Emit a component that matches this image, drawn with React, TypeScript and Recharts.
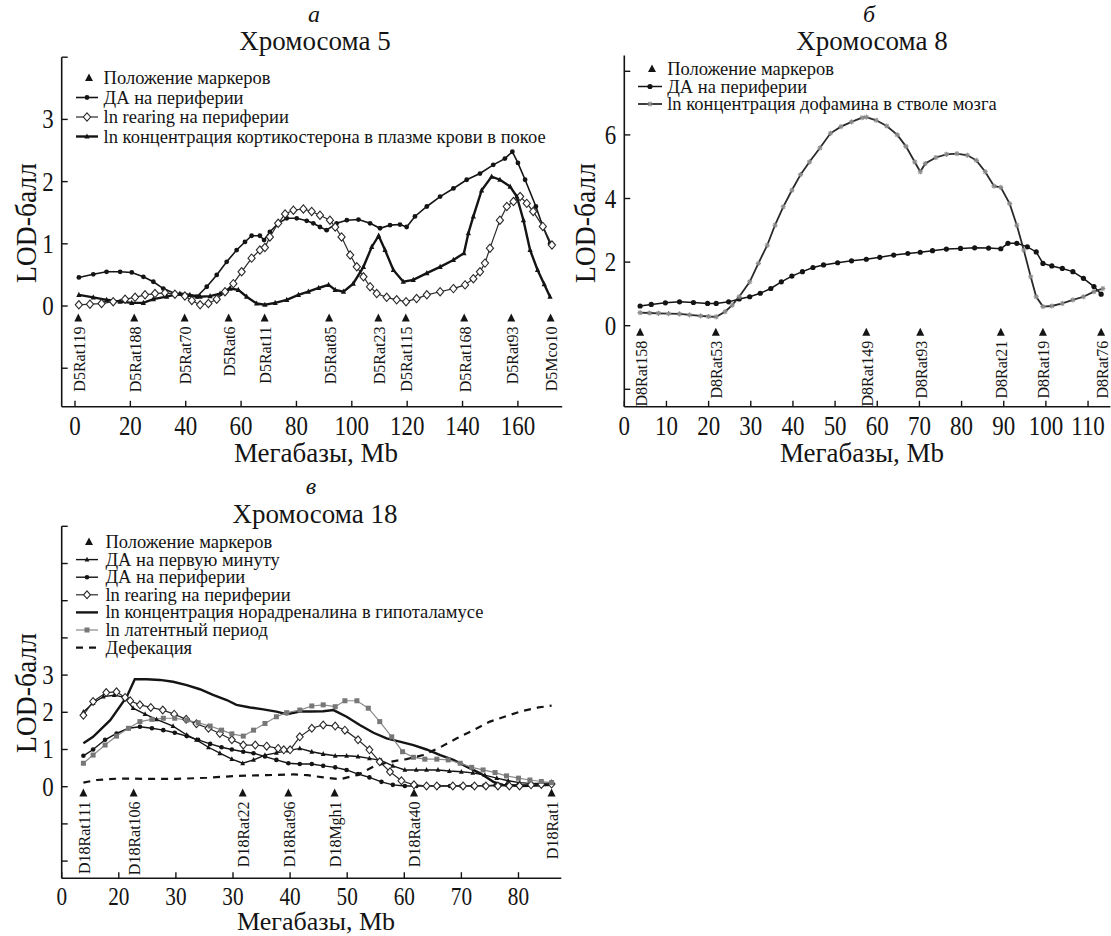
import React from 'react';
import { ComposedChart, Line, Scatter, XAxis, YAxis } from 'recharts';

const FONT = '"Liberation Serif", "Times New Roman", serif';
const INK = '#141414';

type Pt = { x: number; y: number };
const toPts = (rows: number[][]): Pt[] => rows.map(([x, y]) => ({ x, y }));

/* ---------------- Panel а : Хромосома 5 ---------------- */
const chr5MarkerNames = ['D5Rat119', 'D5Rat188', 'D5Rat70', 'D5Rat6', 'D5Rat11', 'D5Rat85', 'D5Rat23', 'D5Rat115', 'D5Rat168', 'D5Rat93', 'D5Mco10'];
const chr5MarkerPos = [1.2, 21.4, 39.6, 55.5, 68.5, 91.8, 109.6, 119.5, 140.6, 157.6, 171.8];
const chr5XTicks = [0, 20, 40, 60, 80, 100, 120, 140, 160];
const chr5XLabels = ['0', '20', '40', '60', '80', '100', '120', '140', '160'];
const chr5YTicks = [-1, 0, 1, 2, 3, 4];
const chr5YLabels = ['', '0', '1', '2', '3', ''];
const chr5Da = toPts([
  [1.4, 0.46], [6.6, 0.51], [11.4, 0.55], [16.3, 0.55], [20.5, 0.54], [24.7, 0.47], [28.3, 0.39], [31.9, 0.28],
  [36.1, 0.2], [40.3, 0.16], [44, 0.15], [47.6, 0.31], [51.2, 0.5], [54.8, 0.71], [58.4, 0.9], [61.4, 1.03],
  [63.8, 1.13], [66.8, 1.13], [68.3, 1.06], [70.4, 1.19], [73.4, 1.33], [76.5, 1.41], [80.1, 1.41], [83.7, 1.37],
  [86.1, 1.33], [88.5, 1.27], [90.9, 1.22], [94.5, 1.33], [98.2, 1.38], [102.4, 1.39], [106.6, 1.33], [110.2, 1.25],
  [113.8, 1.3], [117.4, 1.31], [119.8, 1.27], [122.8, 1.44], [127.1, 1.6], [131.9, 1.76], [136.7, 1.89], [141.5, 2.03],
  [146.3, 2.13], [151.1, 2.27], [155.3, 2.37], [158, 2.48], [160, 2.3], [162.6, 2.03], [166.5, 1.6], [169, 1.28], [171.6, 1.0],
]);
const chr5Cort = toPts([
  [1.4, 0.18], [6.6, 0.14], [11.4, 0.1], [16.3, 0.07], [20.5, 0.05], [24.7, 0.05], [28.3, 0.11], [33.1, 0.15],
  [37.9, 0.2], [41.5, 0.18], [45.2, 0.15], [48.8, 0.16], [52.4, 0.2], [56, 0.28], [59, 0.26], [62, 0.15],
  [65.6, 0.04], [68.6, 0.02], [72.3, 0.05], [76.5, 0.1], [80.7, 0.18], [84.3, 0.23], [88, 0.29], [91.6, 0.34],
  [94, 0.26], [97, 0.23], [100.5, 0.36], [104.2, 0.63], [107.2, 0.95], [109.7, 1.13], [112, 0.9], [115, 0.58],
  [118.6, 0.39], [122.2, 0.42], [127.1, 0.53], [131.9, 0.63], [136.7, 0.74], [140.5, 0.85], [142.1, 1.17], [143.9, 1.44],
  [146.9, 1.86], [150.5, 2.08], [153.5, 2.03], [157.2, 1.92], [159.6, 1.76], [162, 1.38], [164.4, 0.9], [167.1, 0.58],
  [169.5, 0.35], [171.6, 0.15],
]);
const chr5Rearing = toPts([
  [1.4, 0.02], [5.4, 0.03], [9.6, 0.04], [13.8, 0.07], [18.1, 0.11], [21.7, 0.14], [25.3, 0.18], [28.9, 0.2],
  [32.5, 0.21], [36.1, 0.19], [39.7, 0.16], [42.2, 0.09], [45.2, 0.02], [48.2, 0.04], [51.2, 0.11], [54.2, 0.23],
  [57.2, 0.36], [60.2, 0.55], [63.8, 0.77], [66.8, 0.9], [68.6, 0.94], [70.4, 1.11], [73.4, 1.33], [75.9, 1.48],
  [78.9, 1.54], [82.5, 1.56], [85.5, 1.52], [88.5, 1.46], [92.1, 1.38], [94, 1.27], [96.3, 1.11], [99.4, 0.82],
  [101.8, 0.63], [104.2, 0.47], [106.6, 0.31], [109, 0.2], [112.6, 0.14], [116.2, 0.1], [119.6, 0.07], [123.4, 0.12],
  [127.1, 0.18], [131.9, 0.23], [136.7, 0.28], [140.9, 0.34], [143.9, 0.44], [146.3, 0.55], [148.1, 0.69], [149.9, 0.93],
  [153.5, 1.38], [156, 1.6], [158.4, 1.68], [160.8, 1.76], [163.2, 1.65], [165.5, 1.52], [169, 1.28], [172.3, 0.98],
]);

/* ---------------- Panel б : Хромосома 8 ---------------- */
const chr8MarkerNames = ['D8Rat158', 'D8Rat53', 'D8Rat149', 'D8Rat93', 'D8Rat21', 'D8Rat19', 'D8Rat76'];
const chr8MarkerPos = [3.75, 21.7, 57.4, 70.2, 89.3, 99.3, 113.1];
const chr8XTicks = [0, 10, 20, 30, 40, 50, 60, 70, 80, 90, 100, 110];
const chr8XLabels = ['0', '10', '20', '30', '40', '50', '60', '70', '80', '90', '100', '110'];
const chr8YTicks = [-2, 0, 2, 4, 6, 8];
const chr8YLabels = ['', '0', '2', '4', '6', ''];
const chr8Da = toPts([
  [3.75, 0.62], [6.4, 0.67], [9.75, 0.72], [13.1, 0.75], [16.4, 0.73], [19.75, 0.7], [21.8, 0.7], [24.75, 0.75],
  [27.25, 0.84], [29.75, 0.91], [32.25, 1.02], [34.75, 1.17], [37.25, 1.38], [39.75, 1.56], [42.25, 1.7], [44.75, 1.83],
  [47.25, 1.91], [50.6, 1.98], [53.9, 2.04], [57.4, 2.09], [60.6, 2.15], [63.9, 2.22], [67.25, 2.27], [70.2, 2.31],
  [73.1, 2.36], [76.4, 2.41], [79.75, 2.43], [83.1, 2.45], [86.4, 2.44], [89.3, 2.42], [91, 2.59], [93.1, 2.59],
  [95.6, 2.48], [97.7, 2.32], [99.3, 1.96], [101.4, 1.88], [103.9, 1.8], [106.4, 1.7], [108.9, 1.49], [111.4, 1.23], [113.1, 0.99],
]);
const chr8Dopamine = toPts([
  [3.75, 0.41], [6, 0.4], [8.1, 0.39], [10.5, 0.38], [13.1, 0.37], [15.5, 0.34], [18.1, 0.31], [20, 0.29], [21.8, 0.28],
  [23.9, 0.44], [25.6, 0.65], [27.25, 0.91], [29.75, 1.38], [31.8, 1.96], [33.9, 2.53], [35.75, 3.16], [37.7, 3.74],
  [39.75, 4.26], [41.8, 4.75], [43.9, 5.15], [46.4, 5.59], [48.9, 6.05], [51.4, 6.26], [53.9, 6.41], [56.4, 6.54],
  [57.4, 6.56], [59.75, 6.46], [62.25, 6.28], [64.75, 6.0], [66.8, 5.64], [68.9, 5.15], [70.2, 4.84], [71.4, 5.1],
  [73.9, 5.29], [76.4, 5.39], [78.9, 5.41], [81.4, 5.36], [83.5, 5.2], [85.6, 4.84], [87.7, 4.39], [89.3, 4.35],
  [91.4, 3.84], [93.1, 3.16], [94.75, 2.38], [96.4, 1.54], [97.7, 0.91], [99.3, 0.6], [101.4, 0.62], [103.9, 0.7],
  [106.4, 0.81], [108.9, 0.91], [111.4, 1.07], [113.5, 1.17],
]);

/* ---------------- Panel в : Хромосома 18 ---------------- */
const chr18MarkerNames = ['D18Rat111', 'D18Rat106', 'D18Rat22', 'D18Rat96', 'D18Mgh1', 'D18Rat40', 'D18Rat1'];
const chr18MarkerPos = [3.8, 12.6, 31.7, 39.7, 47.8, 61.7, 85.8];
const chr18XTicks = [0, 10, 20, 30, 40, 50, 60, 70, 80];
const chr18XLabels = ['0', '20', '30', '30', '40', '50', '60', '70', '80'];
const chr18YTicks = [-2, -1, 0, 1, 2, 3, 4, 5, 6, 7];
const chr18YLabels = ['', '', '0', '1', '2', '3', '', '', '', ''];
const chr18DaFirst = toPts([
  [3.8, 2.01], [5.5, 2.25], [7.3, 2.42], [9.2, 2.46], [11, 2.4], [12.5, 2.11], [14.6, 1.95], [16.6, 1.81], [19.5, 1.63],
  [21.9, 1.39], [23.6, 1.26], [25.7, 1.06], [27.7, 0.9], [29.8, 0.74], [31.7, 0.63], [33.6, 0.72], [35.6, 0.85],
  [37.6, 0.91], [39.7, 0.97], [41.7, 1.03], [43.8, 0.94], [45.8, 0.88], [47.9, 0.83], [49.9, 0.83], [51.9, 0.81],
  [53.9, 0.76], [56, 0.7], [58, 0.56], [60.1, 0.45], [62.1, 0.45], [63.9, 0.45], [65.9, 0.45], [67.9, 0.42], [70, 0.4],
  [72, 0.37], [74.1, 0.31], [76.2, 0.23], [78.2, 0.16], [80.2, 0.11], [82, 0.09], [84, 0.09], [85.8, 0.1],
]);
const chr18DaPeriph = toPts([
  [3.8, 0.83], [5.5, 1.0], [7.6, 1.26], [9.6, 1.43], [11.7, 1.57], [13.7, 1.61], [15.8, 1.57], [17.8, 1.52], [19.8, 1.45],
  [21.9, 1.36], [23.9, 1.26], [26, 1.15], [28, 1.06], [29.8, 1.0], [31.8, 0.94], [33.6, 0.9], [35.6, 0.81], [37.6, 0.72],
  [39.7, 0.63], [41.7, 0.61], [43.8, 0.61], [45.8, 0.56], [47.9, 0.52], [49.9, 0.45], [51.9, 0.34], [53.9, 0.25],
  [56, 0.13], [58, 0.05], [60.1, 0.02], [62.1, 0.02], [64, 0.02], [66, 0.02], [68, 0.02], [70, 0.02], [72, 0.02],
  [74, 0.03], [76, 0.04], [78, 0.05], [80, 0.05], [82, 0.05], [84, 0.05], [85.8, 0.06],
]);
const chr18Rearing = toPts([
  [3.8, 1.92], [5.5, 2.29], [7.8, 2.53], [9.6, 2.55], [11.1, 2.4], [12, 2.31], [13.7, 2.2], [15.6, 2.13], [17.7, 2.06],
  [19.7, 1.95], [21.8, 1.81], [23.6, 1.69], [25.7, 1.57], [27.7, 1.43], [29.8, 1.26], [31.8, 1.12], [33.9, 1.12],
  [35.9, 1.09], [37.9, 1.03], [38.9, 0.99], [40, 0.99], [41.7, 1.34], [43.8, 1.57], [45.8, 1.66], [47.9, 1.63],
  [49.6, 1.52], [51.9, 1.26], [53.9, 0.99], [55.7, 0.67], [57.5, 0.4], [59.5, 0.16], [61.7, 0.05], [63.9, 0.02],
  [65.7, 0.02], [68.5, 0.02], [70.3, 0.02], [72.3, 0.02], [74.3, 0.02], [76.4, 0.02], [78.4, 0.02], [80.2, 0.02],
  [82.2, 0.05], [84, 0.06], [85.8, 0.07],
]);
const chr18Noradr = toPts([
  [3.8, 1.17], [5.5, 1.34], [8.5, 1.79], [11.4, 2.42], [12.8, 2.89], [14.9, 2.89], [17.2, 2.87], [19.5, 2.82],
  [21.9, 2.73], [24.2, 2.62], [26.5, 2.47], [28.9, 2.33], [30.6, 2.2], [33, 2.13], [35.3, 2.08], [37.6, 2.02],
  [39.4, 1.95], [41.7, 2.02], [43.5, 2.02], [45.8, 2.03], [47.6, 2.06], [49.9, 1.88], [52.2, 1.66], [54.6, 1.45],
  [56.9, 1.3], [59.2, 1.21], [61.6, 1.12], [63.9, 1.0], [66.3, 0.85], [68.6, 0.72], [70.9, 0.54], [73.3, 0.36],
  [75.6, 0.13], [77.3, 0.05], [80.3, 0.02], [83, 0.03], [85.8, 0.05],
]);
const chr18Latent = toPts([
  [3.8, 0.63], [5.5, 0.85], [7.6, 1.12], [9.6, 1.36], [11.7, 1.57], [13.7, 1.75], [15.8, 1.81], [17.8, 1.84], [19.8, 1.84],
  [21.9, 1.79], [23.9, 1.72], [26, 1.63], [28, 1.52], [29.8, 1.42], [31.8, 1.36], [33.6, 1.52], [35.6, 1.7], [37.6, 1.88],
  [39.4, 1.99], [41.7, 2.06], [43.8, 2.17], [45.8, 2.2], [47.9, 2.15], [49.6, 2.31], [51.7, 2.31], [53.7, 2.11],
  [55.7, 1.75], [57.8, 1.34], [59.7, 0.94], [61.6, 0.79], [63.6, 0.74], [65.7, 0.74], [67.7, 0.72], [69.8, 0.63],
  [71.8, 0.52], [73.8, 0.45], [75.9, 0.38], [77.9, 0.29], [80, 0.23], [82, 0.18], [84, 0.14], [85.8, 0.11],
]);
const chr18Defec = toPts([
  [3.8, 0.11], [6.1, 0.18], [10.2, 0.22], [14.9, 0.21], [20.1, 0.21], [25.4, 0.24], [30.6, 0.29], [35.9, 0.31],
  [40.6, 0.33], [43, 0.31], [45.8, 0.25], [48.7, 0.2], [51.7, 0.31], [54.6, 0.54], [57.5, 0.67], [60.4, 0.74],
  [63.3, 0.85], [66.3, 1.06], [69.2, 1.3], [72.1, 1.52], [75, 1.75], [77.9, 1.9], [80.8, 2.04], [83.5, 2.13], [85.8, 2.18],
]);

/* ---------------- rendering helpers ---------------- */
type DotKind = 'circle' | 'tri' | 'diamond' | 'square' | 'star' | 'none';
interface Series {
  name: string; data: Pt[]; stroke: string; width: number; dash?: string; dot: DotKind; dotColor?: string; dotSize?: number;
}

function dotShape(kind: DotKind, cx: number, cy: number, color: string, size: number, key?: any) {
  if (cx == null || cy == null || isNaN(cx) || isNaN(cy)) return <g key={key} />;
  const s = size;
  switch (kind) {
    case 'circle':
      return <circle key={key} cx={cx} cy={cy} r={s} fill={color} />;
    case 'tri':
      return <path key={key} d={`M${cx},${cy - s * 1.2} L${cx + s},${cy + s * 0.8} L${cx - s},${cy + s * 0.8} Z`} fill={color} />;
    case 'diamond':
      return <path key={key} d={`M${cx},${cy - s * 1.15} L${cx + s},${cy} L${cx},${cy + s * 1.15} L${cx - s},${cy} Z`} fill="#fff" stroke={color} strokeWidth={1.1} />;
    case 'square':
      return <rect key={key} x={cx - s} y={cy - s} width={s * 2} height={s * 2} fill={color} />;
    case 'star':
      return (
        <g key={key} stroke={color} strokeWidth={1.1}>
          <line x1={cx - s} y1={cy} x2={cx + s} y2={cy} />
          <line x1={cx} y1={cy - s} x2={cx} y2={cy + s} />
          <line x1={cx - s * 0.7} y1={cy - s * 0.7} x2={cx + s * 0.7} y2={cy + s * 0.7} />
          <line x1={cx - s * 0.7} y1={cy + s * 0.7} x2={cx + s * 0.7} y2={cy - s * 0.7} />
        </g>
      );
    default:
      return <g key={key} />;
  }
}

interface PanelProps {
  box: { left: number; top: number; width: number; height: number };
  plot: { left: number; top: number; right: number; bottom: number };
  xDomain: [number, number];
  yDomain: [number, number];
  xTicks: number[]; xLabels: string[]; xLabelDy: number; xLabelSize: number;
  yTicks: number[]; yLabels: string[];
  markerNames: string[]; markerPos: number[]; markerY: number;
  series: Series[];
}

function Panel(p: PanelProps) {
  const { box, plot } = p;
  const markers = p.markerPos.map((x, i) => ({ x, y: p.markerY, name: p.markerNames[i] }));
  const xTick = (t: any) => {
    const idx = p.xTicks.indexOf(t.payload.value);
    const lbl = idx >= 0 ? p.xLabels[idx] : '';
    return (
      <g>
        <line x1={t.x} x2={t.x} y1={t.y} y2={t.y - 6} stroke={INK} strokeWidth={1.4} />
        {lbl ? (
          <text transform={`translate(${t.x},${t.y + p.xLabelDy}) scale(0.85,1)`} textAnchor="middle" fontSize={p.xLabelSize} fontFamily={FONT} fill={INK}>{lbl}</text>
        ) : null}
      </g>
    );
  };
  const yTick = (t: any) => {
    const idx = p.yTicks.indexOf(t.payload.value);
    const lbl = idx >= 0 ? p.yLabels[idx] : '';
    return (
      <g>
        <line x1={t.x} x2={t.x + 6} y1={t.y} y2={t.y} stroke={INK} strokeWidth={1.4} />
        {lbl ? (
          <text transform={`translate(${t.x - 8},${t.y + 9}) scale(0.85,1)`} textAnchor="end" fontSize={27} fontFamily={FONT} fill={INK}>{lbl}</text>
        ) : null}
      </g>
    );
  };
  const markerShape = (m: any) => {
    const { cx, cy, payload } = m;
    return (
      <g>
        <path d={`M${cx},${cy - 5} L${cx + 4},${cy + 3} L${cx - 4},${cy + 3} Z`} fill={INK} />
        <text transform={`translate(${cx + 1},${cy + 8}) rotate(-90)`} textAnchor="end" dominantBaseline="central" fontSize={16} fontFamily={FONT} fill={INK}>{payload.name}</text>
      </g>
    );
  };
  return (
    <div style={{ position: 'absolute', left: box.left, top: box.top }}>
      <ComposedChart
        width={box.width}
        height={box.height}
        margin={{ top: plot.top - box.top, right: box.left + box.width - plot.right, bottom: 0, left: 0 }}
      >
        <XAxis
          type="number" dataKey="x" domain={p.xDomain} ticks={p.xTicks} interval={0} allowDataOverflow
          height={box.top + box.height - plot.bottom} tickSize={0} tickMargin={0} tickLine={false}
          axisLine={{ stroke: INK, strokeWidth: 1.6 }} tick={xTick}
        />
        <YAxis
          type="number" domain={p.yDomain} ticks={p.yTicks} interval={0} allowDataOverflow
          width={plot.left - box.left} tickSize={0} tickMargin={0} tickLine={false}
          axisLine={{ stroke: INK, strokeWidth: 1.6 }} tick={yTick}
        />
        {p.series.map((s) => (
          <Line
            key={s.name} name={s.name} data={s.data} dataKey="y" type="linear" stroke={s.stroke} strokeWidth={s.width}
            strokeDasharray={s.dash} isAnimationActive={false} activeDot={false}
            dot={s.dot === 'none' ? false : (d: any) => dotShape(s.dot, d.cx, d.cy, s.dotColor || s.stroke, s.dotSize || 2.4, `d${d.index}`)}
          />
        ))}
        <Scatter name="markers" data={markers} dataKey="y" shape={markerShape} isAnimationActive={false} />
      </ComposedChart>
    </div>
  );
}

function LegendSample({ s, x0, x1, y }: { s: Series | null; x0: number; x1: number; y: number }) {
  const cx = (x0 + x1) / 2;
  if (!s) return <path d={`M${cx + 2},${y - 4.5} L${cx + 6},${y + 3} L${cx - 2},${y + 3} Z`} fill={INK} />;
  return (
    <g>
      <line x1={x0} x2={x1} y1={y} y2={y} stroke={s.stroke} strokeWidth={s.width} strokeDasharray={s.dash ? '7 6' : undefined} />
      {s.dot !== 'none' ? dotShape(s.dot, cx, y, s.dotColor || s.stroke, s.dotSize || 2.4) : null}
    </g>
  );
}

function LegendBlock({ items, x0, x1, tx, baselines }: { items: (Series | null)[]; x0: number; x1: number; tx: number; baselines: number[] }) {
  return (
    <g>
      {items.map((s, i) => (
        <g key={i}>
          <LegendSample s={s} x0={x0} x1={x1} y={baselines[i] - 6} />
          <text x={tx} y={baselines[i]} fontSize={18.5} fontFamily={FONT} fill={INK}>{s ? s.name : 'Положение маркеров'}</text>
        </g>
      ))}
    </g>
  );
}

const seriesA: Series[] = [
  { name: 'ДА на периферии', data: chr5Da, stroke: INK, width: 1.6, dot: 'circle', dotSize: 2.4 },
  { name: 'ln rearing на периферии', data: chr5Rearing, stroke: '#2a2a2a', width: 1.2, dot: 'diamond', dotSize: 3.6 },
  { name: 'ln концентрация кортикостерона в плазме крови в покое', data: chr5Cort, stroke: INK, width: 2.4, dot: 'tri', dotSize: 2.6 },
];
const seriesB: Series[] = [
  { name: 'ДА на периферии', data: chr8Da, stroke: INK, width: 1.5, dot: 'circle', dotSize: 2.6 },
  { name: 'ln концентрация дофамина в стволе мозга', data: chr8Dopamine, stroke: '#2a2a2a', width: 1.8, dot: 'star', dotColor: '#8c8c8c', dotSize: 2.6 },
];
const seriesC: Series[] = [
  { name: 'ДА на первую минуту', data: chr18DaFirst, stroke: INK, width: 1.4, dot: 'tri', dotSize: 2.4 },
  { name: 'ДА на периферии', data: chr18DaPeriph, stroke: INK, width: 1.4, dot: 'circle', dotSize: 2.3 },
  { name: 'ln rearing на периферии', data: chr18Rearing, stroke: '#2a2a2a', width: 1.2, dot: 'diamond', dotSize: 3.4 },
  { name: 'ln концентрация норадреналина в гипоталамусе', data: chr18Noradr, stroke: INK, width: 2.4, dot: 'none' },
  { name: 'ln латентный период', data: chr18Latent, stroke: '#8a8a8a', width: 1.2, dot: 'square', dotColor: '#777', dotSize: 2.5 },
  { name: 'Дефекация', data: chr18Defec, stroke: INK, width: 2.2, dash: '7 6', dot: 'none' },
];

function AxisTitles() {
  const t = (x: number, y: number, s: string, size = 27, italic = false) => (
    <text x={x} y={y} textAnchor="middle" fontSize={size} fontFamily={FONT} fontStyle={italic ? 'italic' : 'normal'} fill={INK}>{s}</text>
  );
  const lod = (x: number, y: number) => (
    <text transform={`translate(${x},${y}) rotate(-90)`} textAnchor="middle" fontSize={30} fontFamily={FONT} fill={INK} textLength={120} lengthAdjust="spacingAndGlyphs">LOD-балл</text>
  );
  return (
    <g>
      {t(314, 22, 'а', 24, true)}
      {t(315, 50, 'Хромосома 5')}
      {t(869, 22, 'б', 24, true)}
      {t(872, 50, 'Хромосома 8')}
      {t(311, 494, 'в', 24, true)}
      {t(315, 523, 'Хромосома 18')}
      {t(316, 462, 'Мегабазы, Mb')}
      {t(862, 462, 'Мегабазы, Mb')}
      {t(316, 930, 'Мегабазы, Mb', 26)}
      {lod(35.5, 223)}
      {lod(595, 223)}
      {lod(35.5, 693)}
    </g>
  );
}

export default function App() {
  return (
    <div style={{ position: 'absolute', left: 0, top: 0, width: 1111, height: 936, background: '#fff', overflow: 'hidden', fontFamily: FONT }}>
      <Panel
        box={{ left: 0, top: 0, width: 575, height: 470 }}
        plot={{ left: 61.7, top: 57.2, right: 562.2, bottom: 406.8 }}
        xDomain={[-4.8, 176]} yDomain={[-1.62, 4]}
        xTicks={chr5XTicks} xLabels={chr5XLabels} xLabelDy={28} xLabelSize={27}
        yTicks={chr5YTicks} yLabels={chr5YLabels}
        markerNames={chr5MarkerNames} markerPos={chr5MarkerPos} markerY={-0.2}
        series={seriesA}
      />
      <Panel
        box={{ left: 570, top: 0, width: 541, height: 470 }}
        plot={{ left: 624.3, top: 55.4, right: 1110.4, bottom: 406.8 }}
        xDomain={[0, 115.3]} yDomain={[-2.55, 8.5]}
        xTicks={chr8XTicks} xLabels={chr8XLabels} xLabelDy={28} xLabelSize={27}
        yTicks={chr8YTicks} yLabels={chr8YLabels}
        markerNames={chr8MarkerNames} markerPos={chr8MarkerPos} markerY={-0.22}
        series={seriesB}
      />
      <Panel
        box={{ left: 0, top: 480, width: 575, height: 456 }}
        plot={{ left: 61.7, top: 526.3, right: 561.3, bottom: 878.2 }}
        xDomain={[0, 87.5]} yDomain={[-2.46, 7]}
        xTicks={chr18XTicks} xLabels={chr18XLabels} xLabelDy={27} xLabelSize={25}
        yTicks={chr18YTicks} yLabels={chr18YLabels}
        markerNames={chr18MarkerNames} markerPos={chr18MarkerPos} markerY={-0.18}
        series={seriesC}
      />
      <svg width={1111} height={936} style={{ position: 'absolute', left: 0, top: 0, pointerEvents: 'none' }}>
        <AxisTitles />
        <LegendBlock items={[null, ...seriesA]} x0={76} x1={98} tx={103.6} baselines={[84, 103.5, 123, 142.5]} />
        <LegendBlock items={[null, ...seriesB]} x0={638} x1={662} tx={667.2} baselines={[75, 92.5, 110]} />
        <LegendBlock items={[null, ...seriesC]} x0={76} x1={98} tx={105.4} baselines={[548, 565.6, 583.2, 600.8, 618.4, 636, 653.6]} />
      </svg>
    </div>
  );
}
